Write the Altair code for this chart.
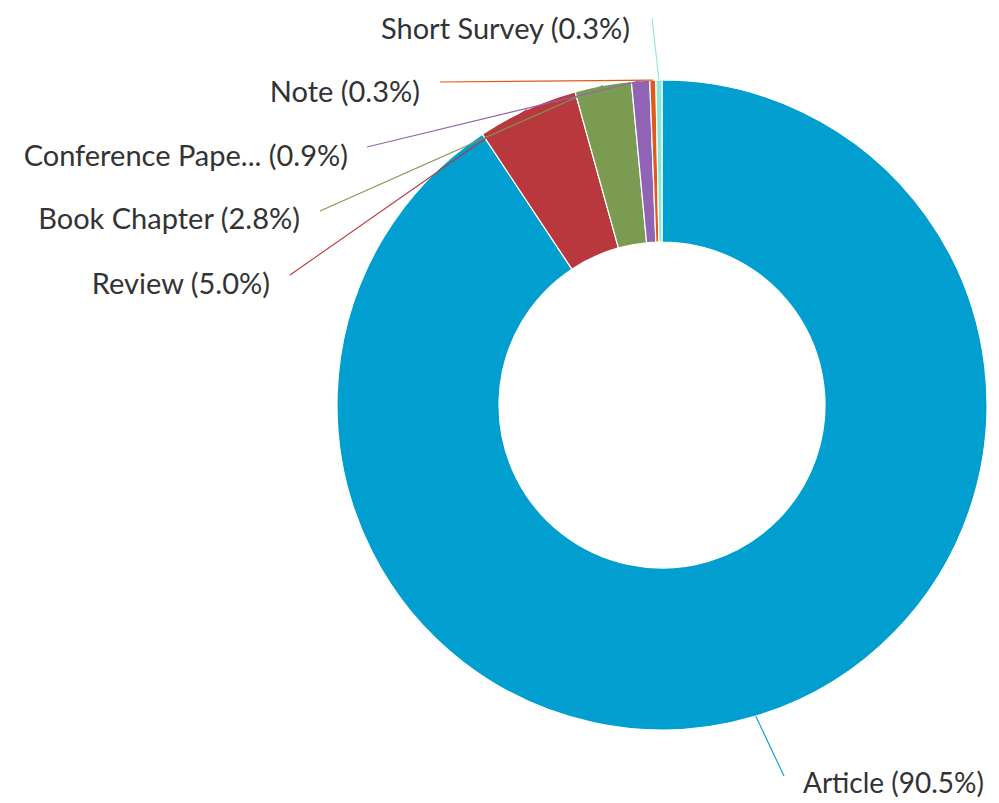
import altair as alt
import pandas as pd

# ---- data ----
categories = ["Article", "Review", "Book Chapter", "Conference Paper", "Note", "Short Survey"]
labels = ["Article (90.5%)", "Review (5.0%)", "Book Chapter (2.8%)",
          "Conference Pape... (0.9%)", "Note (0.3%)", "Short Survey (0.3%)"]
values = [90.5, 5.0, 2.8, 0.9, 0.3, 0.3]

# ---- styles / layout ----
colors = ["#009fd0", "#b8383e", "#7b9b53", "#9163b4", "#df5a1a", "#8ee6d2"]
OFF = 8
CX, CY = 662 - OFF, 405 - OFF
R, R0 = 325, 163
# label anchor (page coords) and connector start
label_x = [803, 270, 300, 348, 420, 630]
label_y = [785, 285, 220, 157, 93, 30]
conn_x = [784, 290, 320, 367, 440, 652]
conn_y = [776, 275, 211, 147, 82, 18]

df = pd.DataFrame({
    "cat": categories,
    "label": labels,
    "value": values,
    "order": list(range(len(categories))),
    "lx": [v - OFF for v in label_x],
    "ly": [v - OFF for v in label_y],
    "cx": [v - OFF for v in conn_x],
    "cy": [v - OFF for v in conn_y],
})

color_scale = alt.Scale(domain=categories, range=colors)

base = alt.Chart(df)

arcs = base.mark_arc(innerRadius=R0, outerRadius=R, stroke="white", strokeWidth=1.2).encode(
    theta=alt.Theta("value:Q", stack=True),
    color=alt.Color("cat:N", scale=color_scale, legend=None),
    order=alt.Order("order:Q"),
    x=alt.value(CX),
    y=alt.value(CY),
)

geo = base.transform_window(
    cum="sum(value)", sort=[alt.SortField("order")], frame=[None, 0]
).transform_joinaggregate(
    total="sum(value)"
).transform_calculate(
    mid="2*PI*(datum.cum - datum.value/2)/datum.total",
    px=f"{CX} + {R}*sin(datum.mid)",
    py=f"{CY} - {R}*cos(datum.mid)",
)

rules = geo.mark_rule(strokeWidth=1.1).encode(
    x=alt.X("px:Q", scale=None),
    y=alt.Y("py:Q", scale=None),
    x2="cx:Q",
    y2="cy:Q",
    color=alt.Color("cat:N", scale=color_scale, legend=None),
)

text_left = base.transform_filter("datum.order == 0").mark_text(
    align="left", baseline="middle", font="Lato", fontSize=28, color="#333333"
).encode(
    x=alt.X("lx:Q", scale=None),
    y=alt.Y("ly:Q", scale=None),
    text="label:N",
)

text_right = base.transform_filter("datum.order > 0").mark_text(
    align="right", baseline="middle", font="Lato", fontSize=29, color="#333333"
).encode(
    x=alt.X("lx:Q", scale=None),
    y=alt.Y("ly:Q", scale=None),
    text="label:N",
)

chart = alt.layer(arcs, rules, text_left, text_right).properties(
    width=983, height=800, padding=0, autosize=alt.AutoSizeParams(type="none")
).configure_view(stroke=None)

chart.save("out.html", embed_options={"renderer": "svg", "actions": False})
